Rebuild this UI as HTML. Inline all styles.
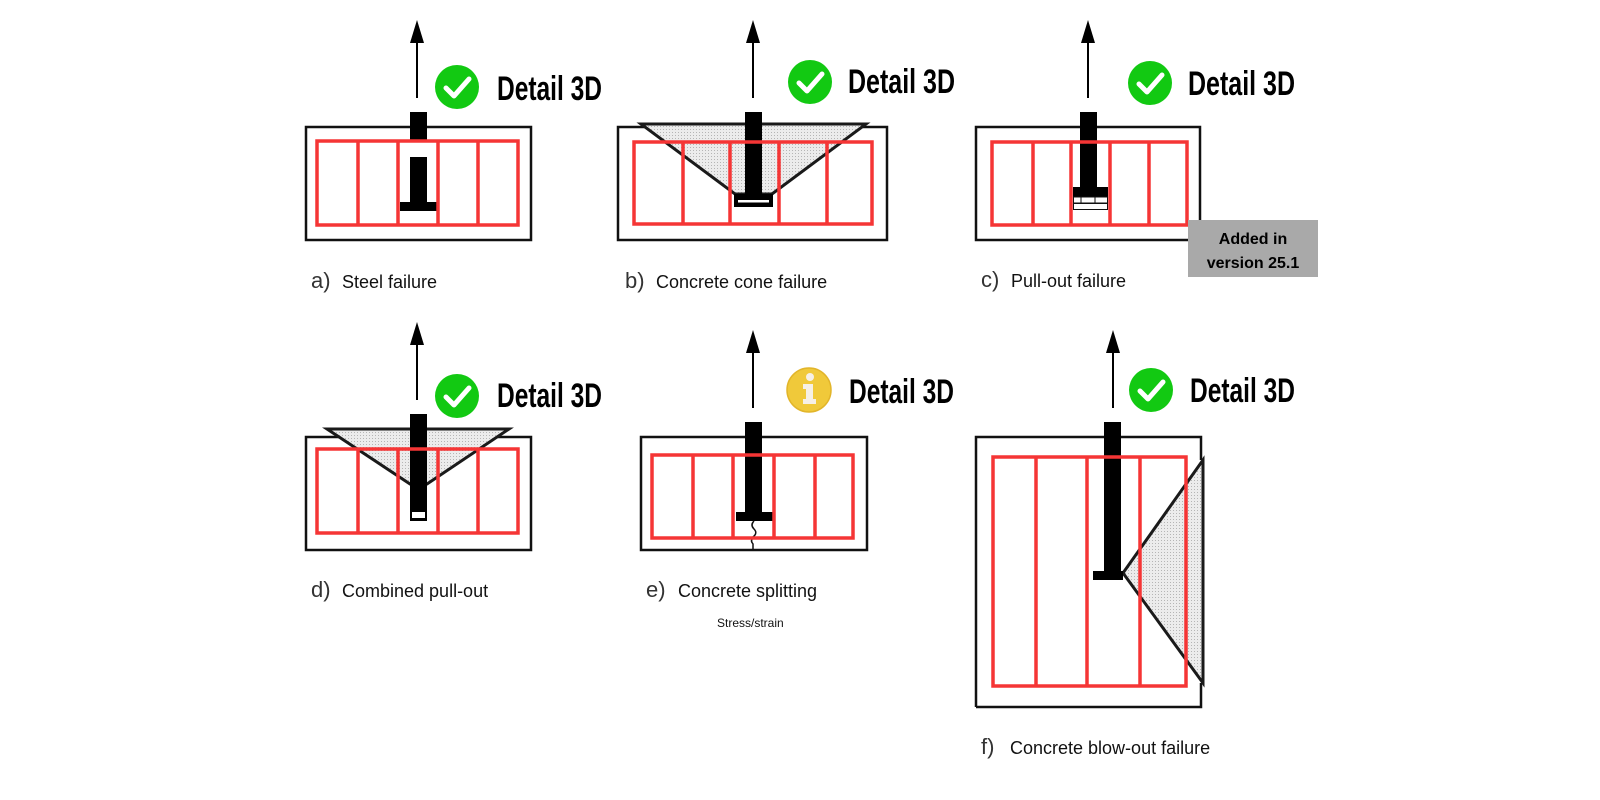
<!DOCTYPE html>
<html><head><meta charset="utf-8"><style>
html,body{margin:0;padding:0;background:#fff;width:1600px;height:800px;overflow:hidden}
svg{display:block}
.o{fill:none;stroke:#111;stroke-width:2.5}
.r{fill:none;stroke:#f53535;stroke-width:3.5}
.d{font-family:"Liberation Sans Narrow","Liberation Sans",sans-serif;font-weight:bold;font-size:34px;fill:#000}
.l{font-family:"Liberation Sans",sans-serif;font-size:18px;fill:#111}
.lb{font-family:"Liberation Sans",sans-serif;font-size:22px;fill:#333}
.cone{fill:#e2e2e2;stroke:#1a1a1a;stroke-width:3;stroke-linejoin:miter}
</style></head><body>
<svg width="1600" height="800" viewBox="0 0 1600 800" xmlns="http://www.w3.org/2000/svg">
<defs>
<pattern id="dots" width="3" height="3" patternUnits="userSpaceOnUse"><rect width="3" height="3" fill="#ececec"/><rect width="1" height="1" fill="#b5b5b5"/></pattern>
<g id="chk"><circle r="22" fill="#12c912"/><path d="M-11,1 L-3,9 L12,-8" fill="none" stroke="#fff" stroke-width="5" stroke-linecap="round" stroke-linejoin="round"/></g>
</defs>

<!-- Panel a -->
<line x1="417" y1="40" x2="417" y2="98" stroke="#000" stroke-width="2"/>
<polygon points="417,20 410,43 424,43" fill="#000"/>
<use href="#chk" x="457" y="87"/>
<text class="d" x="497" y="100" textLength="105" lengthAdjust="spacingAndGlyphs">Detail 3D</text>
<rect class="o" x="306" y="127" width="225" height="113"/>
<rect x="410" y="112" width="17" height="28" fill="#000"/>
<rect x="410" y="157" width="17" height="46" fill="#000"/>
<rect x="400" y="202" width="37" height="9" fill="#000"/>
<rect class="r" x="317" y="141" width="201" height="84"/>
<path class="r" d="M358,141V225M398,141V225M438,141V225M478,141V225"/>
<text class="lb" x="311" y="288">a)</text><text class="l" x="342" y="288">Steel failure</text>

<!-- Panel b -->
<line x1="753" y1="40" x2="753" y2="98" stroke="#000" stroke-width="2"/>
<polygon points="753,20 746,43 760,43" fill="#000"/>
<use href="#chk" x="810" y="82"/>
<text class="d" x="848" y="93" textLength="107" lengthAdjust="spacingAndGlyphs">Detail 3D</text>
<rect class="o" x="618" y="127" width="269" height="113"/>
<polygon class="cone" points="641,124 866,124 772,194 735,194" style="fill:url(#dots)"/>
<rect x="745" y="112" width="17" height="84" fill="#000"/>
<rect x="734" y="194" width="39" height="13" fill="#000"/>
<rect x="738" y="200" width="31" height="2.5" fill="#fff"/>
<rect class="r" x="634" y="142" width="238" height="82"/>
<path class="r" d="M683,142V224M730,142V224M779,142V224M827,142V224"/>
<text class="lb" x="625" y="288">b)</text><text class="l" x="656" y="288">Concrete cone failure</text>

<!-- Panel c -->
<line x1="1088" y1="40" x2="1088" y2="98" stroke="#000" stroke-width="2"/>
<polygon points="1088,20 1081,43 1095,43" fill="#000"/>
<use href="#chk" x="1150" y="83"/>
<text class="d" x="1188" y="95" textLength="107" lengthAdjust="spacingAndGlyphs">Detail 3D</text>
<rect class="o" x="976" y="127" width="224" height="113"/>
<rect x="1080" y="112" width="17" height="78" fill="#000"/>
<rect x="1073" y="187" width="35" height="10" fill="#000"/>
<rect x="1073.5" y="197" width="34" height="6" fill="#fff" stroke="#111" stroke-width="1"/>
<path d="M1081,197V203M1095,197V203" stroke="#111" stroke-width="1"/>
<rect x="1073.5" y="203.5" width="34" height="6" fill="#fff" stroke="#111" stroke-width="1"/>
<rect class="r" x="992" y="142" width="195" height="83"/>
<path class="r" d="M1033,142V225M1071,142V225M1110,142V225M1149,142V225"/>
<text class="lb" x="981" y="287">c)</text><text class="l" x="1011" y="287">Pull-out failure</text>
<rect x="1188" y="220" width="130" height="57" fill="#a9a9a9"/>
<text x="1253" y="244" text-anchor="middle" font-family="Liberation Sans,sans-serif" font-weight="bold" font-size="16" fill="#000">Added in</text>
<text x="1253" y="268" text-anchor="middle" font-family="Liberation Sans,sans-serif" font-weight="bold" font-size="16" fill="#000">version 25.1</text>

<!-- Panel d -->
<line x1="417" y1="342" x2="417" y2="400" stroke="#000" stroke-width="2"/>
<polygon points="417,322 410,345 424,345" fill="#000"/>
<use href="#chk" x="457" y="396"/>
<text class="d" x="497" y="407" textLength="105" lengthAdjust="spacingAndGlyphs">Detail 3D</text>
<rect class="o" x="306" y="437" width="225" height="113"/>
<polygon class="cone" points="327,429 509,429 427,484 410,484" style="fill:url(#dots)"/>
<rect x="410" y="414" width="17" height="107" fill="#000"/>
<rect x="412" y="512" width="13" height="6" fill="#fff"/>
<rect class="r" x="317" y="449" width="201" height="84"/>
<path class="r" d="M358,449V533M398,449V533M438,449V533M478,449V533"/>
<text class="lb" x="311" y="597">d)</text><text class="l" x="342" y="597">Combined pull-out</text>

<!-- Panel e -->
<line x1="753" y1="350" x2="753" y2="408" stroke="#000" stroke-width="2"/>
<polygon points="753,330 746,353 760,353" fill="#000"/>
<circle cx="809" cy="390" r="22" fill="#f0c93a"/>
<circle cx="809" cy="390" r="22" fill="none" stroke="#e2b52a" stroke-width="1.5"/>
<circle cx="810" cy="377" r="4" fill="#f6f0e6"/>
<path d="M803,384H813V399H816V404H803V399H806V389H803Z" fill="#f6f0e6"/>
<text class="d" x="849" y="403" textLength="105" lengthAdjust="spacingAndGlyphs">Detail 3D</text>
<rect class="o" x="641" y="437" width="226" height="113"/>
<rect x="745" y="422" width="17" height="92" fill="#000"/>
<rect x="736" y="512" width="37" height="9" fill="#000"/>
<path d="M754,521 q-4,4 0,8 q4,4 -1,8 q-3,4 0,7 v6" fill="none" stroke="#111" stroke-width="1.5"/>
<rect class="r" x="652" y="455" width="201" height="83"/>
<path class="r" d="M693,455V538M733,455V538M774,455V538M815,455V538"/>
<text class="lb" x="646" y="597">e)</text><text class="l" x="678" y="597">Concrete splitting</text>
<text x="717" y="627" font-family="Liberation Sans,sans-serif" font-size="12" fill="#111">Stress/strain</text>

<!-- Panel f -->
<line x1="1113" y1="350" x2="1113" y2="408" stroke="#000" stroke-width="2"/>
<polygon points="1113,330 1106,353 1120,353" fill="#000"/>
<use href="#chk" x="1151" y="390"/>
<text class="d" x="1190" y="402" textLength="105" lengthAdjust="spacingAndGlyphs">Detail 3D</text>
<path d="M976,707V437H1201V460 M1201,683V707H976" fill="none" stroke="#111" stroke-width="2.5"/>
<polygon class="cone" points="1203,460 1203,683 1123,573" style="fill:url(#dots)"/>
<rect x="1104" y="422" width="17" height="158" fill="#000"/>
<rect x="1093" y="571" width="30" height="9" fill="#000"/>
<rect class="r" x="993" y="457" width="193" height="229"/>
<path class="r" d="M1036,457V686M1087,457V686M1140,457V686"/>
<text class="lb" x="981" y="754">f)</text><text class="l" x="1010" y="754">Concrete blow-out failure</text>
</svg>
</body></html>
